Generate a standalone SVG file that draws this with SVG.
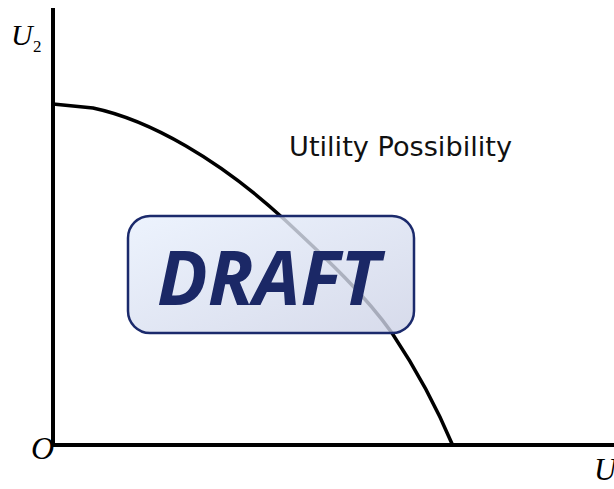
<svg xmlns="http://www.w3.org/2000/svg" width="614" height="489" viewBox="0 0 614 489">
  <defs>
    <style>
      .axis { stroke: #000; stroke-width: 4; fill: none; }
      .curve { stroke: #000; stroke-width: 3.5; fill: none; stroke-linejoin: round; }
      .math { font-family: "Liberation Serif", "Times New Roman", serif; font-style: italic; fill: #000; }
      .sub { font-family: "Liberation Serif", "Times New Roman", serif; font-style: normal; font-size: 17px; fill: #000; }
      .label { font-family: "DejaVu Sans", "Liberation Sans", sans-serif; font-size: 26px; fill: #111; }
      .stamp { font-family: "Open Sans", "Liberation Sans", sans-serif; font-weight: bold; font-style: italic; font-size: 76px; fill: #1b2866; }
    </style>
    <linearGradient id="stampFill" x1="0" y1="0" x2="1" y2="1">
      <stop offset="0" stop-color="#e8f0fd"/>
      <stop offset="1" stop-color="#cdd2e6"/>
    </linearGradient>
  </defs>
  <rect width="614" height="489" fill="#fff"/>

  <!-- axes -->
  <g id="axes">
    <line class="axis" x1="53" y1="8" x2="53" y2="447"/>
    <line class="axis" x1="51" y1="445" x2="614" y2="445"/>
  </g>

  <!-- frontier curve -->
  <g id="frontier">
    <path class="curve" d="M53,104 L93,108 C150,120 220,160 285,220 C330,262 365,295 392,333 C420,375 440,415 453,446"/>
  </g>

  <!-- axis labels -->
  <g id="labels">
    <text class="math" x="11" y="45" font-size="30">U</text>
    <text class="sub" x="33" y="52">2</text>
    <text class="math" x="31" y="459" font-size="32">O</text>
    <text class="math" x="594" y="480" font-size="31">U</text>
    <text class="label" x="289" y="156" textLength="223" lengthAdjust="spacingAndGlyphs">Utility Possibility</text>
  </g>

  <!-- overlay stamp -->
  <g id="stamp">
    <rect x="128" y="216" width="286" height="117" rx="22" ry="22" fill="url(#stampFill)" fill-opacity="0.8" stroke="#1b2a6c" stroke-width="2.5"/>
    <text class="stamp" x="157" y="305" textLength="223" lengthAdjust="spacingAndGlyphs">DRAFT</text>
  </g>
</svg>
